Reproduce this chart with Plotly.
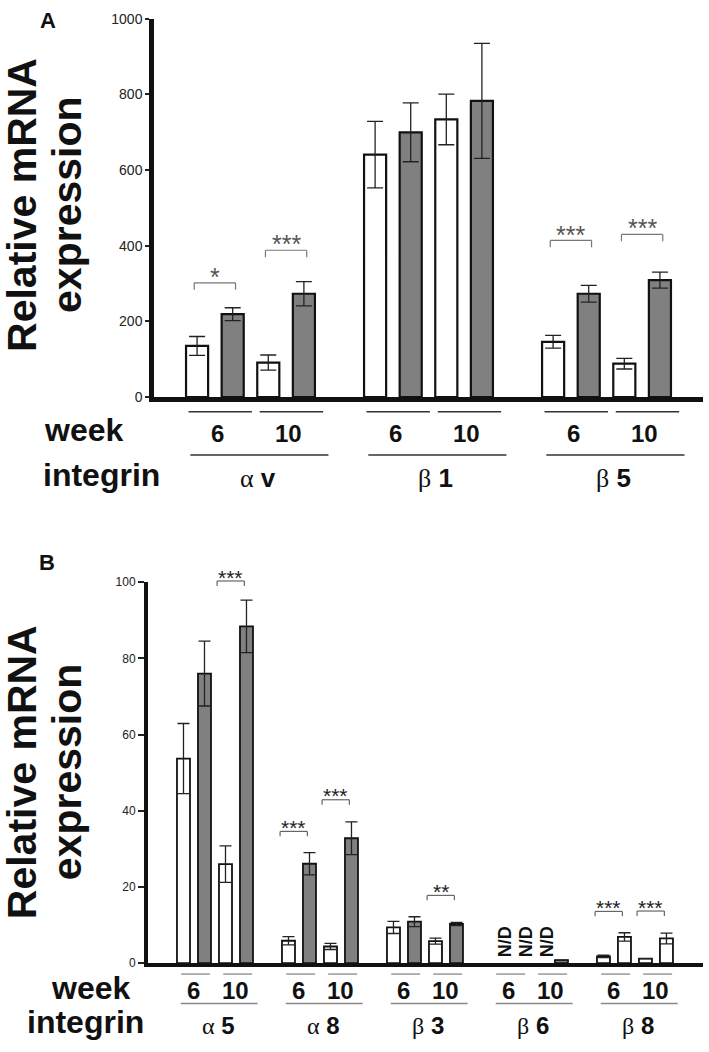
import plotly.graph_objects as go

W, H = 709, 1052

# ---------------- Panel A data ----------------
a_greek = ["α", "β", "β"]
a_suffix = ["v", "1", "5"]
a_wk6_ctrl = [135, 641, 146]
a_wk6_ctrl_err = [25, 88, 17]
a_wk6_trt = [219, 700, 273]
a_wk6_trt_err = [17, 78, 22]
a_wk10_ctrl = [91, 734, 88]
a_wk10_ctrl_err = [20, 67, 14]
a_wk10_trt = [273, 783, 309]
a_wk10_trt_err = [32, 152, 21]
a_yticks = [0, 200, 400, 600, 800, 1000]
# (stars, integrin group, week index 0=6/1=10, bracket level)
a_sig = [("*", 0, 0, 302), ("***", 0, 1, 388), ("***", 2, 0, 414), ("***", 2, 1, 430)]

# ---------------- Panel B data ----------------
b_greek = ["α", "α", "β", "β", "β"]
b_suffix = ["5", "8", "3", "6", "8"]
b_wk6_ctrl = [53.7, 5.9, 9.4, None, 1.8]
b_wk6_ctrl_err = [9.2, 1.1, 1.6, 0, 0.3]
b_wk6_trt = [76.0, 26.1, 10.9, None, 6.9]
b_wk6_trt_err = [8.5, 2.9, 1.3, 0, 1.1]
b_wk10_ctrl = [26.0, 4.4, 5.8, None, 1.2]
b_wk10_ctrl_err = [4.8, 0.8, 0.8, 0, 0]
b_wk10_trt = [88.4, 32.8, 10.3, 0.8, 6.5]
b_wk10_trt_err = [6.9, 4.3, 0.4, 0, 1.4]
b_trt_colors = ["#808080", "#808080", "#808080", "#808080", "white"]
b_yticks = [0, 20, 40, 60, 80, 100]
b_sig = [("***", 0, 1, 100.3), ("***", 1, 0, 34.6), ("***", 1, 1, 42.9),
         ("**", 2, 1, 17.8), ("***", 4, 0, 13.6), ("***", 4, 1, 13.7)]

weeks = ["6", "10"]

# ---------------- geometry (pixels) ----------------
PA = dict(x0=154, x1=703, ytop=11, ybot=395, xr=(-1.21, 14.21), yr=(0, 1000))
PB = dict(x0=148, x1=703, ytop=583, ybot=970, xr=(-1.69, 24.74), yr=(0, 100))


def dom_x(p):
    return [p["x0"] / W, p["x1"] / W]


def dom_y(p):
    return [1 - p["ybot"] / H, 1 - p["ytop"] / H]


def xp(p, v):
    d = dom_x(p)
    return d[0] + (v - p["xr"][0]) / (p["xr"][1] - p["xr"][0]) * (d[1] - d[0])


def yp(p, v):
    d = dom_y(p)
    return d[0] + (v - p["yr"][0]) / (p["yr"][1] - p["yr"][0]) * (d[1] - d[0])


def ypx(px):
    return 1 - px / H


def xpx(px):
    return px / W


fig = go.Figure()
shapes = []
annotations = []


def add_bars(ax, ay, n, series, lw, capw):
    for offset, vals, errs, colors in series:
        xs = [g * 5 + offset for g in range(n)]
        fig.add_trace(go.Bar(
            x=xs, y=vals, width=0.62, xaxis=ax, yaxis=ay,
            marker=dict(color=colors, line=dict(color="#111", width=lw)),
            error_y=dict(type="data", array=errs, color="#222", thickness=1.3, width=capw),
            hoverinfo="skip", showlegend=False,
        ))


add_bars("x", "y", 3, [
    (0, a_wk6_ctrl, a_wk6_ctrl_err, "white"),
    (1, a_wk6_trt, a_wk6_trt_err, "#808080"),
    (2, a_wk10_ctrl, a_wk10_ctrl_err, "white"),
    (3, a_wk10_trt, a_wk10_trt_err, "#808080"),
], 2.2, 8)

add_bars("x2", "y2", 5, [
    (0, b_wk6_ctrl, b_wk6_ctrl_err, "white"),
    (1, b_wk6_trt, b_wk6_trt_err, b_trt_colors),
    (2, b_wk10_ctrl, b_wk10_ctrl_err, "white"),
    (3, b_wk10_trt, b_wk10_trt_err, b_trt_colors),
], 1.8, 6)


def line(x0, x1, y0, y1, color, width):
    shapes.append(dict(type="line", xref="paper", yref="paper", x0=x0, x1=x1, y0=y0, y1=y1,
                       line=dict(color=color, width=width)))


def text(x, y, t, size, color="#111", bold=False, angle=0, family=None):
    f = dict(size=size, color=color)
    if family:
        f["family"] = family
    annotations.append(dict(xref="paper", yref="paper", x=x, y=y, text=(f"<b>{t}</b>" if bold else t),
                            showarrow=False, xanchor="center", yanchor="middle", textangle=angle, font=f))


# significance brackets
def brackets(p, sig, half, shift, drop_px, star_size, star_color, star_gap_px, bcolor):
    for stars, g, w, lvl in sig:
        c = g * 5 + 2 * w + 0.5 + shift
        xl, xr_ = xp(p, c - half), xp(p, c + half)
        y = yp(p, lvl)
        dy = drop_px / H
        line(xl, xr_, y, y, bcolor, 1.2)
        line(xl, xl, y, y - dy, bcolor, 1.2)
        line(xr_, xr_, y, y - dy, bcolor, 1.2)
        text((xl + xr_) / 2, y + star_gap_px / H, stars, star_size, star_color)


brackets(PA, a_sig, 0.58, 0.0, 7, 25, "#555", 6, "#777")
brackets(PB, b_sig, 0.65, -0.25, 5, 21, "#222", 4, "#666")

# N/D labels (panel B, beta6)
for series, off in [(b_wk6_ctrl, 0), (b_wk6_trt, 1), (b_wk10_ctrl, 2)]:
    for g, v in enumerate(series):
        if v is None:
            text(xp(PB, g * 5 + off + 0.3), yp(PB, 5.7), "N/D", 18, "#111", bold=True, angle=-90)


# labels under the axes
def under_labels(p, n, greek, suffix, wk_line_y, wk_y, int_line_y, int_y,
                 wk_off, wk_line_off, wk_half, int_off, int_half,
                 week_xc, int_xc, digit_size, name_size, wk_color, int_color, lw):
    text(xpx(week_xc), ypx(wk_y - 3), "week", 32, "#111", bold=True)
    text(xpx(int_xc), ypx(int_y - 3), "integrin", 32, "#111", bold=True)
    for g in range(n):
        for w in range(2):
            c = g * 5 + 2 * w + 0.5
            line(xp(p, c + wk_line_off - wk_half), xp(p, c + wk_line_off + wk_half),
                 ypx(wk_line_y), ypx(wk_line_y), wk_color, lw)
            text(xp(p, c + wk_off), ypx(wk_y), weeks[w], digit_size, "#111", bold=True)
        gc = g * 5 + 1.5
        line(xp(p, gc + int_off - int_half), xp(p, gc + int_off + int_half),
             ypx(int_line_y), ypx(int_line_y), int_color, lw)
        name = (f"<span style='font-family:Liberation Serif, Times New Roman, serif'>{greek[g]}</span>"
                f" <b>{suffix[g]}</b>")
        text(xp(p, gc + int_off - 0.05), ypx(int_y), name, name_size, "#111")


under_labels(PA, 3, a_greek, a_suffix, 410, 432, 454, 477,
             0.08, 0.15, 0.89, 0.25, 1.94, 83, 101, 24, 26, "#333", "#333", 1.5)
under_labels(PB, 5, b_greek, b_suffix, 981, 998, 1011, 1033,
             0.0, 0.08, 0.69, 0.2, 1.83, 90, 85, 24, 24, "#999", "#888", 1.5)

# y titles (two separately placed lines) and panel letters
for yc in (200, 776):
    text(xpx(22), ypx(yc), "Relative mRNA", 41, "#111", bold=True, angle=-90)
    text(xpx(67), ypx(yc), "expression", 41, "#111", bold=True, angle=-90)
text(xpx(48), ypx(13), "A", 22, "#111", bold=True)
text(xpx(47), ypx(563), "B", 22, "#111", bold=True)

axis_common = dict(showgrid=False, zeroline=False, showline=True, linecolor="#111")

fig.update_layout(
    width=W, height=H,
    margin=dict(l=0, r=0, t=0, b=0),
    paper_bgcolor="white", plot_bgcolor="white",
    font=dict(family="Liberation Sans, Arial, sans-serif", color="#111"),
    barmode="overlay", showlegend=False,
    xaxis=dict(domain=dom_x(PA), range=list(PA["xr"]), anchor="y", showticklabels=False, ticks="",
               linewidth=4.5, **axis_common),
    yaxis=dict(domain=dom_y(PA), range=list(PA["yr"]), anchor="x", tickvals=a_yticks, ticks="outside",
               ticklen=4, tickwidth=1.5, tickcolor="#222", linewidth=4.5,
               tickfont=dict(size=14, color="#222"), **axis_common),
    xaxis2=dict(domain=dom_x(PB), range=list(PB["xr"]), anchor="y2", showticklabels=False, ticks="",
                linewidth=4, **axis_common),
    yaxis2=dict(domain=dom_y(PB), range=list(PB["yr"]), anchor="x2", tickvals=b_yticks, ticks="outside",
                ticklen=6, tickwidth=1.5, tickcolor="#222", linewidth=4,
                tickfont=dict(size=12, color="#222"), **axis_common),
    shapes=shapes, annotations=annotations,
)

fig.write_html("out.html", config={"displayModeBar": False},
               post_script="document.body.style.margin='0px';")
